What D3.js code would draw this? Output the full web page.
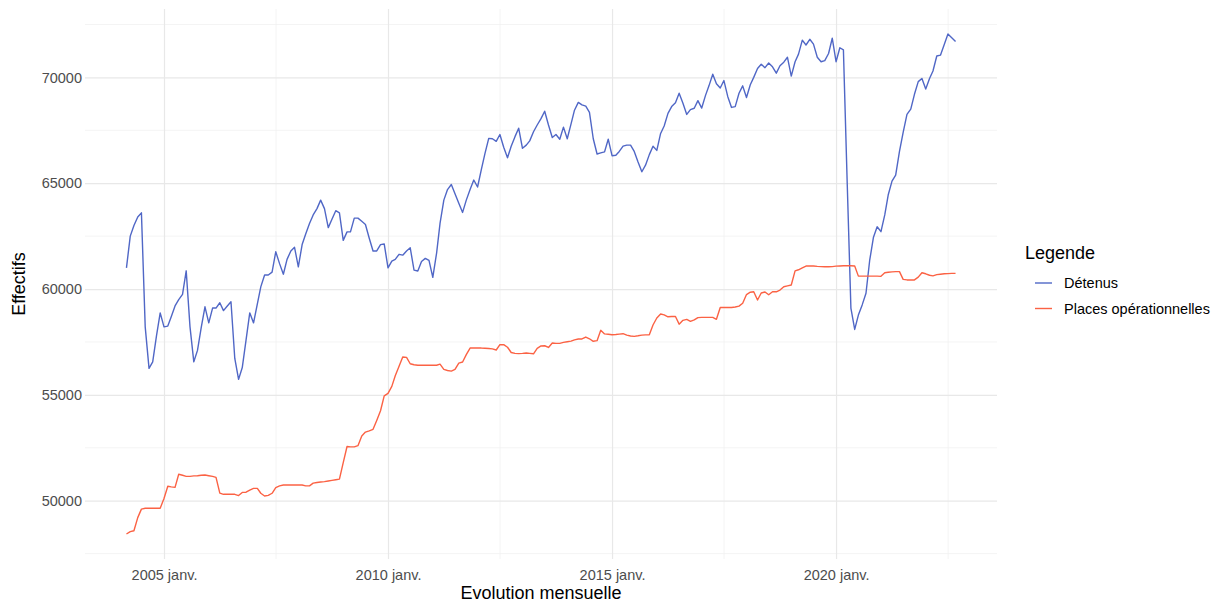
<!DOCTYPE html>
<html>
<head>
<meta charset="utf-8">
<script src="https://cdn.jsdelivr.net/npm/d3@7"></script>
<style>
  body { margin: 0; background: #fff; }
  svg { display: block; font-family: "Liberation Sans", Arial, sans-serif; }
</style>
</head>
<body>
<div id="chart"></div>
<script>
// Mois de depart de la serie (un point par mois)
const moisDebut = "2004-03-01";

// Effectifs detenus (mars 2004 -> sept. 2022)
const detenus = [
  61000, 62500, 63000, 63400, 63600, 58200, 56250, 56560, 57800, 58875,
  58210, 58250, 58690, 59200, 59500, 59750, 60860, 58210, 56560, 57100,
  58200, 59160, 58400, 59100, 59100, 59350, 58980, 59200, 59400, 56720,
  55730, 56290, 57600, 58875, 58400, 59300, 60100, 60660, 60660, 60800,
  61760, 61200, 60700, 61400, 61800, 61970, 61050, 62100, 62600, 63100,
  63500, 63800, 64200, 63800, 62900, 63300, 63700, 63600, 62300, 62700,
  62700, 63350, 63350, 63200, 63050, 62400, 61800, 61800, 62100, 62130,
  61000, 61320, 61400, 61640, 61600, 61800, 61950, 60890, 60850, 61300,
  61450, 61350, 60550, 61700, 63100, 64200, 64700, 64940, 64500, 64050,
  63620, 64200, 64700, 65150, 64820, 65650, 66400, 67120, 67100, 66980,
  67300, 66700, 66200, 66750, 67200, 67600, 66650, 66800, 67000, 67430,
  67750, 68050, 68400, 67750, 67160, 67300, 67080, 67650, 67100, 67800,
  68450, 68820, 68700, 68640, 68350, 67100, 66380, 66430, 66480, 67080,
  66300, 66320, 66500, 66750, 66800, 66800, 66500, 66000, 65540, 65850,
  66350, 66750, 66550, 67350, 67700, 68300, 68620, 68800, 69250, 68780,
  68250, 68480, 68540, 68900, 68550, 69150, 69600, 70150, 69700, 69500,
  69850, 69100, 68580, 68620, 69250, 69600, 69050, 69650, 70000, 70420,
  70620, 70460, 70680, 70500, 70200, 70550, 70720, 70950, 70060, 70740,
  71100, 71760, 71530, 71800, 71570, 70950, 70740, 70790, 71130, 71850,
  70740, 71400, 71300, 65000, 59100, 58090, 58770, 59250, 59800, 61350,
  62450, 62940, 62710, 63500, 64440, 65100, 65385, 66500, 67400, 68250,
  68500, 69200, 69800, 69950, 69450, 69950, 70300, 71010, 71050, 71550,
  72050, 71870, 71690
];

// Places operationnelles
const places = [
  48425, 48535, 48580, 49200, 49600, 49640, 49640, 49640, 49640, 49640,
  50100, 50680, 50650, 50630, 51250, 51200, 51150, 51150, 51170, 51180,
  51200, 51210, 51180, 51150, 51100, 50360, 50300, 50300, 50300, 50300,
  50240, 50390, 50400, 50500, 50580, 50580, 50350, 50220, 50250, 50350,
  50620, 50700, 50740, 50740, 50740, 50740, 50740, 50740, 50700, 50700,
  50830, 50860, 50880, 50900, 50930, 50960, 50990, 51020, 51800, 52560,
  52540, 52540, 52600, 53060, 53240, 53300, 53370, 53790, 54250, 54950,
  55070, 55400, 55900, 56350, 56790, 56770, 56470, 56420, 56400, 56400,
  56400, 56400, 56400, 56400, 56450, 56200, 56150, 56120, 56200, 56500,
  56550, 56900, 57210, 57210, 57210, 57210, 57200, 57190, 57170, 57120,
  57370, 57370, 57250, 57000, 56960, 56950, 56960, 56980, 56960, 56940,
  57200, 57310, 57320, 57240, 57450, 57430, 57430, 57480, 57510, 57540,
  57600, 57640, 57640, 57730, 57650, 57530, 57560, 58050, 57880, 57860,
  57840, 57850, 57870, 57890, 57820, 57780, 57765, 57790, 57820, 57835,
  57840, 58300, 58630, 58820, 58780, 58690, 58700, 58700, 58340, 58520,
  58565, 58470, 58540, 58650, 58660, 58660, 58660, 58660, 58570, 59130,
  59130, 59130, 59130, 59150, 59190, 59330, 59740, 59850, 59870, 59480,
  59810, 59860, 59730, 59870, 59870, 59950, 60110, 60150, 60190, 60860,
  60910, 61000, 61085, 61085, 61085, 61070, 61060, 61055, 61055, 61060,
  61080, 61090, 61100, 61100, 61100, 61090, 60610, 60610, 60610, 60610,
  60610, 60610, 60600, 60770, 60790, 60810, 60820, 60820, 60455, 60430,
  60425, 60430, 60560, 60770, 60720, 60650, 60620, 60680, 60700, 60720,
  60730, 60740, 60740
];

const nomsSeries = ["Détenus", "Places opérationnelles"];
const couleurs = ["#5067c6", "#fb6244"];
const yTicks = [50000, 55000, 60000, 65000, 70000];

const width = 1220;
const height = 602;
const margin = { top: 9, right: 223, bottom: 43, left: 85 };
const innerW = width - margin.left - margin.right;
const innerH = height - margin.top - margin.bottom;

// Locale francaise pour les mois ("janv.")
const fr = d3.timeFormatLocale({
  dateTime: "%A %e %B %Y à %X", date: "%d/%m/%Y", time: "%H:%M:%S",
  periods: ["AM", "PM"],
  days: ["dimanche", "lundi", "mardi", "mercredi", "jeudi", "vendredi", "samedi"],
  shortDays: ["dim.", "lun.", "mar.", "mer.", "jeu.", "ven.", "sam."],
  months: ["janvier", "février", "mars", "avril", "mai", "juin", "juillet", "août", "septembre", "octobre", "novembre", "décembre"],
  shortMonths: ["janv.", "févr.", "mars", "avr.", "mai", "juin", "juil.", "août", "sept.", "oct.", "nov.", "déc."]
});
const formatMois = fr.format("%Y %b");

const debut = new Date(moisDebut + "T00:00:00");
const dates = detenus.map((_, i) => d3.timeMonth.offset(debut, i));

const data = nomsSeries.map((nom, k) => ({
  nom,
  couleur: couleurs[k],
  points: (k === 0 ? detenus : places).map((v, i) => ({ date: dates[i], v }))
}));

// Domaines avec expansion de 5% comme ggplot
const xExt = d3.extent(dates);
const xPad = (xExt[1] - xExt[0]) * 0.05;
const x = d3.scaleTime()
  .domain([new Date(+xExt[0] - xPad), new Date(+xExt[1] + xPad)])
  .range([0, innerW]);

const yExt = d3.extent(detenus.concat(places));
const yPad = (yExt[1] - yExt[0]) * 0.05;
const y = d3.scaleLinear()
  .domain([yExt[0] - yPad, yExt[1] + yPad])
  .range([innerH, 0]);

const svg = d3.select("#chart").append("svg")
  .attr("width", width)
  .attr("height", height)
  .attr("viewBox", [0, 0, width, height]);

const g = svg.append("g").attr("transform", `translate(${margin.left},${margin.top})`);

// Grilles mineures
const xMajor = d3.timeYear.every(5).range(d3.timeYear.offset(x.domain()[0], -5), d3.timeYear.offset(x.domain()[1], 5));
const xMinor = d3.pairs(xMajor).map(([a, b]) => new Date((+a + +b) / 2))
  .filter(d => d >= x.domain()[0] && d <= x.domain()[1]);
const yMinor = d3.range(yTicks[0] - 2500, yTicks[yTicks.length - 1] + 5000, 5000)
  .filter(v => v >= y.domain()[0] && v <= y.domain()[1]);

g.append("g").selectAll("line").data(yMinor).join("line")
  .attr("x1", 0).attr("x2", innerW)
  .attr("y1", d => y(d)).attr("y2", d => y(d))
  .attr("stroke", "#f1f1f1").attr("stroke-width", 0.8);
g.append("g").selectAll("line").data(xMinor).join("line")
  .attr("y1", 0).attr("y2", innerH)
  .attr("x1", d => x(d)).attr("x2", d => x(d))
  .attr("stroke", "#f1f1f1").attr("stroke-width", 0.8);

// Axes (grilles majeures via les ticks)
const xTicks = xMajor.filter(d => d >= x.domain()[0] && d <= x.domain()[1]);
const xAxis = g.append("g")
  .attr("transform", `translate(0,${innerH})`)
  .call(d3.axisBottom(x).tickValues(xTicks).tickFormat(formatMois).tickSize(innerH).tickPadding(-innerH + 11));
xAxis.select(".domain").remove();
xAxis.selectAll(".tick line")
  .attr("transform", `translate(0,${-innerH})`)
  .attr("stroke", "#e8e8e8").attr("stroke-width", 1.2);
xAxis.selectAll(".tick text")
  .attr("fill", "#4d4d4d").style("font-size", "14.5px");

const yAxis = g.append("g")
  .call(d3.axisLeft(y).tickValues(yTicks).tickFormat(d3.format("d")).tickSize(-innerW).tickPadding(3));
yAxis.select(".domain").remove();
yAxis.selectAll(".tick line").attr("stroke", "#e8e8e8").attr("stroke-width", 1.2);
yAxis.selectAll(".tick text").attr("fill", "#4d4d4d").style("font-size", "14.5px");

// Courbes
const line = d3.line().x(d => x(d.date)).y(d => y(d.v));
g.append("g").selectAll("path").data(data).join("path")
  .attr("d", d => line(d.points))
  .attr("fill", "none")
  .attr("stroke", d => d.couleur)
  .attr("stroke-width", 1.4)
  .attr("stroke-linejoin", "round");

// Titres des axes
svg.append("text")
  .attr("x", margin.left + innerW / 2)
  .attr("y", 599)
  .attr("text-anchor", "middle")
  .style("font-size", "18px")
  .attr("fill", "#000")
  .text("Evolution mensuelle");

svg.append("text")
  .attr("transform", `translate(25,${margin.top + innerH / 2}) rotate(-90)`)
  .attr("text-anchor", "middle")
  .style("font-size", "18px")
  .attr("fill", "#000")
  .text("Effectifs");

// Legende
const leg = svg.append("g").attr("transform", "translate(1025,0)");
leg.append("text")
  .attr("x", 0).attr("y", 259)
  .style("font-size", "18px")
  .attr("fill", "#000")
  .text("Legende");
const item = leg.selectAll("g.item").data(data).join("g")
  .attr("class", "item")
  .attr("transform", (d, i) => `translate(0,${283 + i * 25.5})`);
item.append("line")
  .attr("x1", 10).attr("x2", 27)
  .attr("stroke", d => d.couleur).attr("stroke-width", 1.4);
item.append("text")
  .attr("x", 39).attr("dy", "0.35em")
  .style("font-size", "14.5px")
  .attr("fill", "#000")
  .text(d => d.nom);
</script>
</body>
</html>
